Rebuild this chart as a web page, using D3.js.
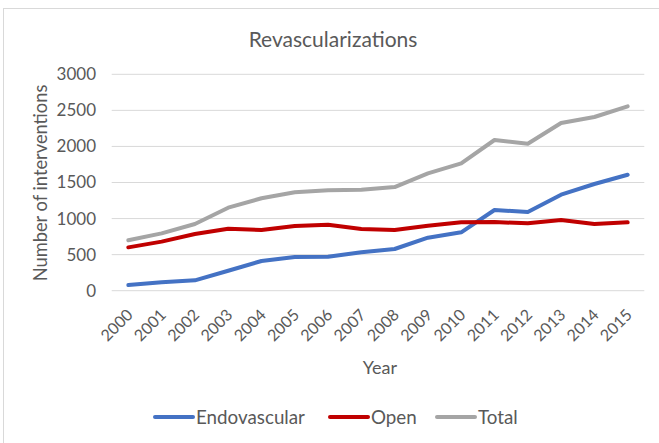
<!DOCTYPE html>
<html><head><meta charset="utf-8">
<script src="https://cdn.jsdelivr.net/npm/d3@7"></script>
<style>
html,body{margin:0;padding:0;background:#fff;}
text{font-family:Lato,"Open Sans",sans-serif;fill:#595959;}
</style></head>
<body>
<svg id="chart" width="659" height="443"></svg>
<script>
const years = ["2000","2001","2002","2003","2004","2005","2006","2007","2008","2009","2010","2011","2012","2013","2014","2015"];
const endovascular = [79,116,144,277,412,467,471,532,578,735,809,1119,1091,1331,1479,1608];
const open = [601,680,786,860,841,897,915,855,841,901,948,952,934,980,925,948];
const total = [699,795,925,1151,1281,1364,1392,1400,1437,1627,1766,2089,2038,2325,2408,2556];
const yTicks = [0,500,1000,1500,2000,2500,3000];
const seriesNames = ["Endovascular","Open","Total"];
const seriesColors = ["#4472C4","#C00000","#A5A5A5"];

const svg = d3.select("#chart");
svg.append("rect").attr("x",3.5).attr("y",8.5).attr("width",700).attr("height",500)
  .attr("fill","none").attr("stroke","#D9D9D9").attr("stroke-width",1);

const x = d3.scaleBand().domain(years).range([111.7,644.3]);
const y = d3.scaleLinear().domain([0,3000]).range([290.7,74.3]);

svg.append("g").selectAll("line").data(yTicks).join("line")
  .attr("x1",x.range()[0]).attr("x2",x.range()[1])
  .attr("y1",d=>y(d)).attr("y2",d=>y(d))
  .attr("stroke","#D9D9D9").attr("stroke-width",1);

const yAxis = d3.axisLeft(y).tickValues(yTicks).tickFormat(d3.format("d")).tickSize(0).tickPadding(0);
const gy = svg.append("g").attr("transform","translate(96,0)").call(yAxis);
gy.select(".domain").remove();
gy.selectAll("text").attr("font-size",17).style("font-family","Lato, sans-serif").attr("fill","#595959");

const xAxis = d3.axisBottom(x).tickSize(0).tickPadding(0);
const gx = svg.append("g").attr("transform","translate(0,291)").call(xAxis);
gx.select(".domain").remove();
gx.selectAll("text").attr("font-size",16).style("font-family","Lato, sans-serif").attr("fill","#595959")
  .attr("text-anchor","end").attr("dy","0.35em")
  .attr("transform","translate(1.5,21) rotate(-45)").attr("y",0).attr("x",0);

const cx = d => x(d) + x.bandwidth()/2;
const series = [endovascular, open, total];
const line = d3.line().x((d,i)=>cx(years[i])).y(d=>y(d));
svg.append("g").selectAll("path").data(series).join("path")
  .attr("d",d=>line(d)).attr("fill","none")
  .attr("stroke",(d,i)=>seriesColors[i]).attr("stroke-width",4)
  .attr("stroke-linejoin","round").attr("stroke-linecap","round");

svg.append("text").attr("x",333).attr("y",47).attr("text-anchor","middle")
  .attr("font-size",21).text("Revascularizations");
svg.append("text").attr("transform","translate(47,183) rotate(-90)").attr("text-anchor","middle")
  .attr("font-size",18.3).text("Number of interventions");
svg.append("text").attr("x",380).attr("y",374).attr("text-anchor","middle")
  .attr("font-size",18).text("Year");

const legX = [155,330,437];
const lg = svg.append("g").selectAll("g").data(seriesNames).join("g")
  .attr("transform",(d,i)=>`translate(${legX[i]},417)`);
lg.append("line").attr("x1",0).attr("x2",38).attr("y1",0).attr("y2",0)
  .attr("stroke",(d,i)=>seriesColors[i]).attr("stroke-width",4).attr("stroke-linecap","round");
lg.append("text").attr("x",41).attr("y",6.5).attr("font-size",18.8).text(d=>d);
</script>
</body></html>
